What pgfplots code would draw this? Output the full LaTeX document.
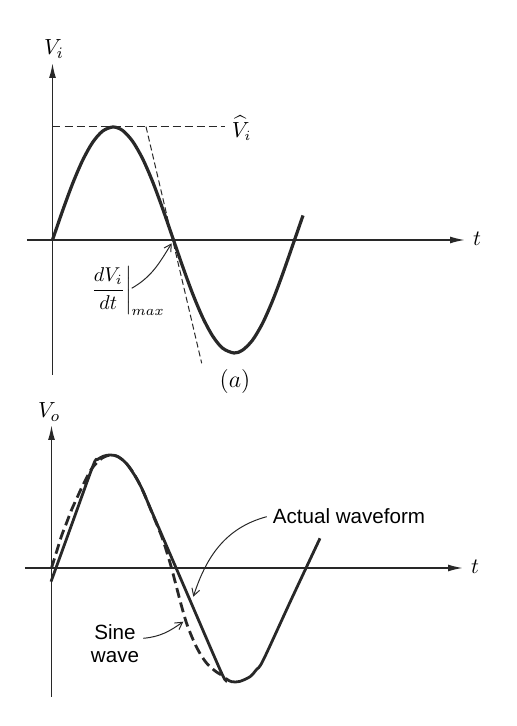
\documentclass[border=0pt]{standalone}
\usepackage{fontspec}
\setmainfont{Liberation Sans}
\usepackage{amsmath}
\usepackage{pgfplots}
\pgfplotsset{compat=1.18}
\usetikzlibrary{arrows.meta}
\definecolor{ink}{RGB}{40,40,40}

\begin{document}
\begin{tikzpicture}
\useasboundingbox (0,0) rectangle (258.5pt,363pt);
\pgfplotsset{
  wave/.style={
    scale only axis, axis lines=middle, enlargelimits=false,
    xtick=\empty, ytick=\empty,
    axis line style={draw=ink, line width=0.8pt, -{Latex[length=7.5pt,width=3.5pt]}},
    clip=false, width=219pt, anchor=south west,
  },
}
% ---------- (a) ----------
\begin{axis}[wave, at={(13.5pt,175.5pt)}, height=156pt,
  xmin=-25.5, xmax=412.5, ymin=-135, ymax=177]
\addplot[draw=ink, line width=0.5pt, dash pattern=on 4pt off 2pt]
  coordinates {(0,113) (172.5,113)};
\addplot[draw=ink, line width=0.5pt, dash pattern=on 3pt off 1.6pt]
  coordinates {(93.5,113.3) (149.2,-123.3)};
\addplot[draw=ink, line width=1.6pt, smooth] coordinates {
  (0,0) (10,29.0) (20,56.1) (30,79.4) (40,97.4) (50,108.8) (60.5,113)
  (70,109.6) (80,98.8) (90,81.5) (100,58.6) (110,31.7) (121,0)
  (130,-26.1) (140,-53.4) (150,-77.1) (160,-95.8) (170,-108.1) (181.5,-113)
  (190,-110.2) (200,-100.2) (210,-83.4) (220,-60.9) (230,-34.4) (242,0) (250.5,24.5)};
\node[font=\fontsize{11}{13}\selectfont] at (1.5,191) {$V_i$};
\node[font=\fontsize{10.5}{13}\selectfont, anchor=west, inner sep=1pt] at (177,112) {$\widehat{V}_i$};
\node[font=\fontsize{11}{13}\selectfont] at (424.5,1) {$t$};
\node[font=\fontsize{10}{12}\selectfont, anchor=west] at (29.5,-51)
  {$\left.\dfrac{dV_i}{dt}\right|_{max}$};
\draw[draw=ink, line width=0.5pt, -{Straight Barb[length=3.5pt,width=4pt]}]
  (79.2,-48.3) to[out=30,in=238] (119.2,-3.3);
\node[font=\fontsize{11.5}{13}\selectfont] at (182.5,-142) {$(a)$};
\end{axis}
% ---------- (b) ----------
\begin{axis}[wave, at={(12.5pt,14.5pt)}, height=136pt,
  xmin=-26.5, xmax=411.5, ymin=-129, ymax=143]
\addplot[draw=ink, line width=1.4pt, dash pattern=on 5pt off 2.5pt, smooth] coordinates {
  (0,0) (5,16) (10,32) (15,45) (20,58) (25,69) (30,80) (35,90) (40,99)
  (45,105) (50,109.5) (55,112) (60,113) (65,112) (70,109) (75,104.4)
  (80,97.9) (85,89.7) (90,79.9) (95,68.8) (100,56.5) (110,32) (115,17)
  (120,0) (125,-19) (130,-38) (135,-55) (140,-68) (145,-79) (150,-88)
  (155,-95) (160,-100) (165,-104) (170,-107)};
\addplot[draw=ink, line width=1.4pt, smooth] coordinates {
  (-0.5,-13.7) (20.7,44.8) (41.8,103) (46,108.5) (52,111.8) (58.5,113)
  (66,111.6) (75,104.4) (85,89.7) (92,76) (98.5,60.5) (134.4,-22.7)
  (170.2,-105.3) (175,-111) (180.2,-113.7) (188,-113.5) (198.5,-108.7)
  (205,-101.5) (211.8,-92) (240,-31) (268.5,29.7)};
\node[font=\fontsize{11}{13}\selectfont] at (-2.5,156) {$V_o$};
\node[font=\fontsize{11}{13}\selectfont] at (423.5,1) {$t$};
\node[font=\fontsize{10.3}{12}\selectfont] at (297.5,52) {Actual waveform};
\draw[draw=ink, line width=0.5pt, -{Straight Barb[length=3.5pt,width=4pt]}]
  (215.2,51.3) to[out=195,in=72] (141.8,-28.7);
\node[font=\fontsize{10.3}{11.5}\selectfont, align=center] at (63.5,-76) {Sine\\wave};
\draw[draw=ink, line width=0.5pt, -{Straight Barb[length=3.5pt,width=4pt]}]
  (91.8,-70.3) to[out=5,in=215] (131.8,-53.7);
\end{axis}
\end{tikzpicture}
\end{document}
